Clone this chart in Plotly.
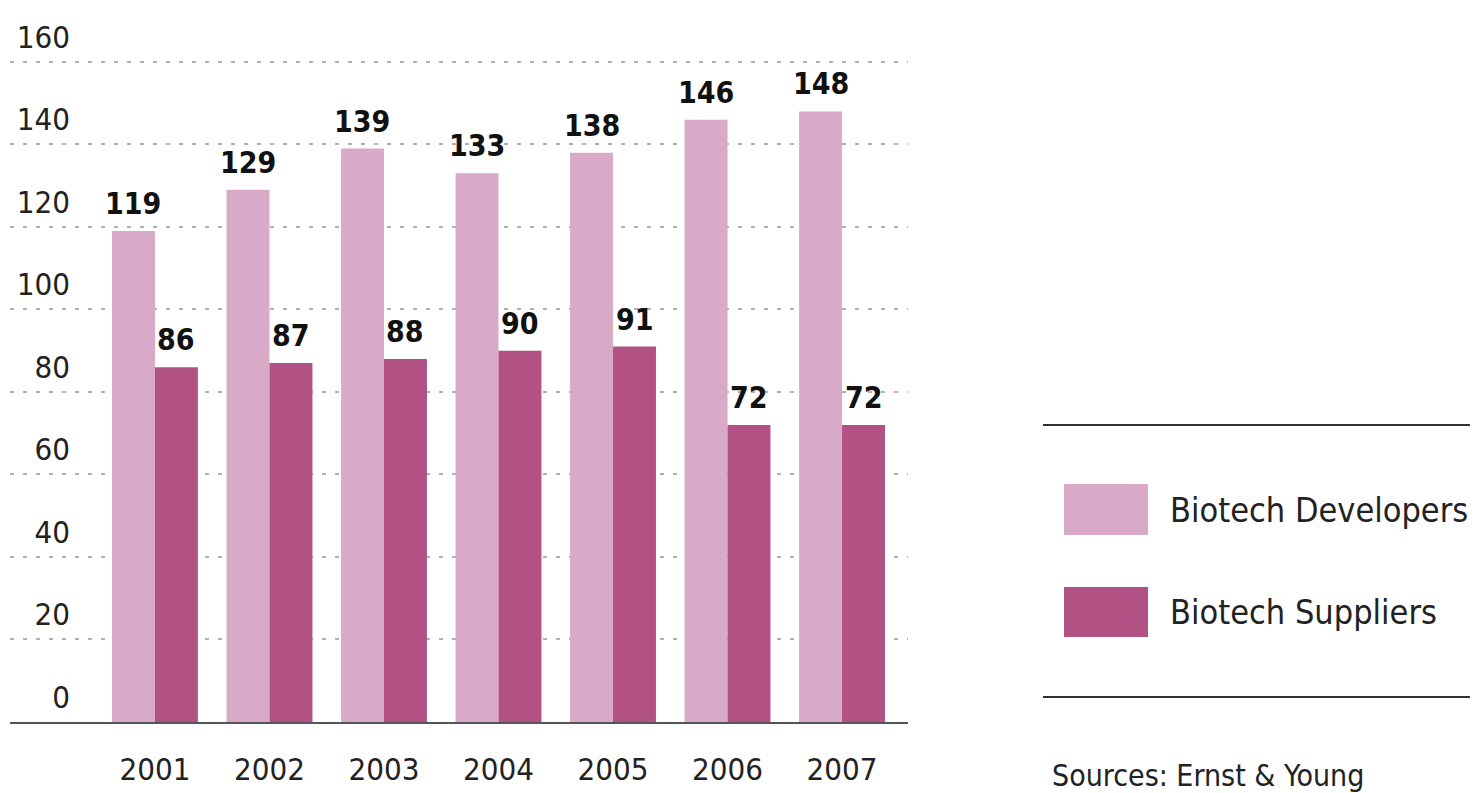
import plotly.graph_objects as go

years = ["2001", "2002", "2003", "2004", "2005", "2006", "2007"]
developers = [119, 129, 139, 133, 138, 146, 148]
suppliers = [86, 87, 88, 90, 91, 72, 72]
series_names = ["Biotech Developers", "Biotech Suppliers"]
y_ticks = [0, 20, 40, 60, 80, 100, 120, 140, 160]
source_text = "Sources: Ernst & Young"

LIGHT = "#D9A9C8"
DARK = "#B25184"
FONT = "DejaVu Sans Condensed, Liberation Sans Narrow, Arial Narrow, sans-serif"
OFF = 8  # page body margin
W, H = 1478 - OFF, 793 - OFF
PLOT_TOP, PLOT_BOT = 40, 722  # screen pixels of plot area


def fx(v):
    return (v - OFF) / W


def fy(v):
    # paper y is relative to the plot area
    return (PLOT_BOT - v) / (PLOT_BOT - PLOT_TOP)


fig = go.Figure()
fig.add_trace(go.Bar(x=years, y=developers, name=series_names[0], marker=dict(color=LIGHT, line=dict(width=0)),
                     hoverinfo="x+y+name"))
fig.add_trace(go.Bar(x=years, y=suppliers, name=series_names[1], marker=dict(color=DARK, line=dict(width=0)),
                     hoverinfo="x+y+name"))
# invisible helper trace so the label axis (y2) gets drawn
fig.add_trace(go.Scatter(x=years, y=developers, yaxis="y2", mode="markers",
                         marker=dict(opacity=0), hoverinfo="skip", showlegend=False))

# value labels above each bar
bar_px = 43
for i, yr in enumerate(years):
    for vals, sh in ((developers, -bar_px / 2), (suppliers, bar_px / 2)):
        fig.add_annotation(x=i, y=vals[i], xref="x", yref="y", text="<b>%d</b>" % vals[i],
                           showarrow=False, xshift=sh, yshift=8, yanchor="bottom",
                           font=dict(family=FONT, size=30, color="#111"))

y_range = [0, 165.3]

fig.update_layout(
    width=W, height=H,
    margin=dict(l=0, r=0, t=PLOT_TOP - OFF, b=H - (PLOT_BOT - OFF)),
    paper_bgcolor="white", plot_bgcolor="white",
    barmode="group", bargap=0.25, bargroupgap=0,
    showlegend=False,
    font=dict(family=FONT, size=30, color="#222"),
    xaxis=dict(domain=[fx(10), fx(908)], type="category", range=[-1.266, 6.576],
               showline=True, linecolor="#555", linewidth=2, ticks="", showgrid=False,
               tickfont=dict(family=FONT, size=31, color="#222"), ticklabelstandoff=19),
    yaxis=dict(range=y_range, tickvals=y_ticks, showticklabels=False, ticks="",
               showgrid=True, gridcolor="#B0B0B0", gridwidth=2, griddash="4px,9px",
               zeroline=False, showline=False),
    yaxis2=dict(overlaying="y", anchor="free", position=fx(70), side="left",
                range=y_range, tickvals=y_ticks, showgrid=False, zeroline=False,
                showline=False, ticks="", ticklabelshift=-25,
                tickfont=dict(family=FONT, size=31, color="#222")),
)

# legend (drawn manually for the large swatches)
fig.add_shape(type="line", xref="paper", yref="paper", x0=fx(1043), x1=1, y0=fy(425), y1=fy(425),
              line=dict(color="#333", width=2))
fig.add_shape(type="line", xref="paper", yref="paper", x0=fx(1043), x1=1, y0=fy(697), y1=fy(697),
              line=dict(color="#333", width=2))
for (name, col, top, bot) in ((series_names[0], LIGHT, 484, 535), (series_names[1], DARK, 587, 637)):
    fig.add_shape(type="rect", xref="paper", yref="paper", x0=fx(1064), x1=fx(1148),
                  y0=fy(bot), y1=fy(top), fillcolor=col, line=dict(width=0))
    fig.add_annotation(xref="paper", yref="paper", x=fx(1168), y=fy((top + bot) / 2), text=name,
                       showarrow=False, xanchor="left", yanchor="middle",
                       font=dict(family=FONT, size=34, color="#222"))

fig.add_annotation(xref="paper", yref="paper", x=fx(1050), y=fy(756), text=source_text,
                   showarrow=False, xanchor="left", yanchor="top",
                   font=dict(family=FONT, size=30, color="#222"))

fig.write_html("out.html")
